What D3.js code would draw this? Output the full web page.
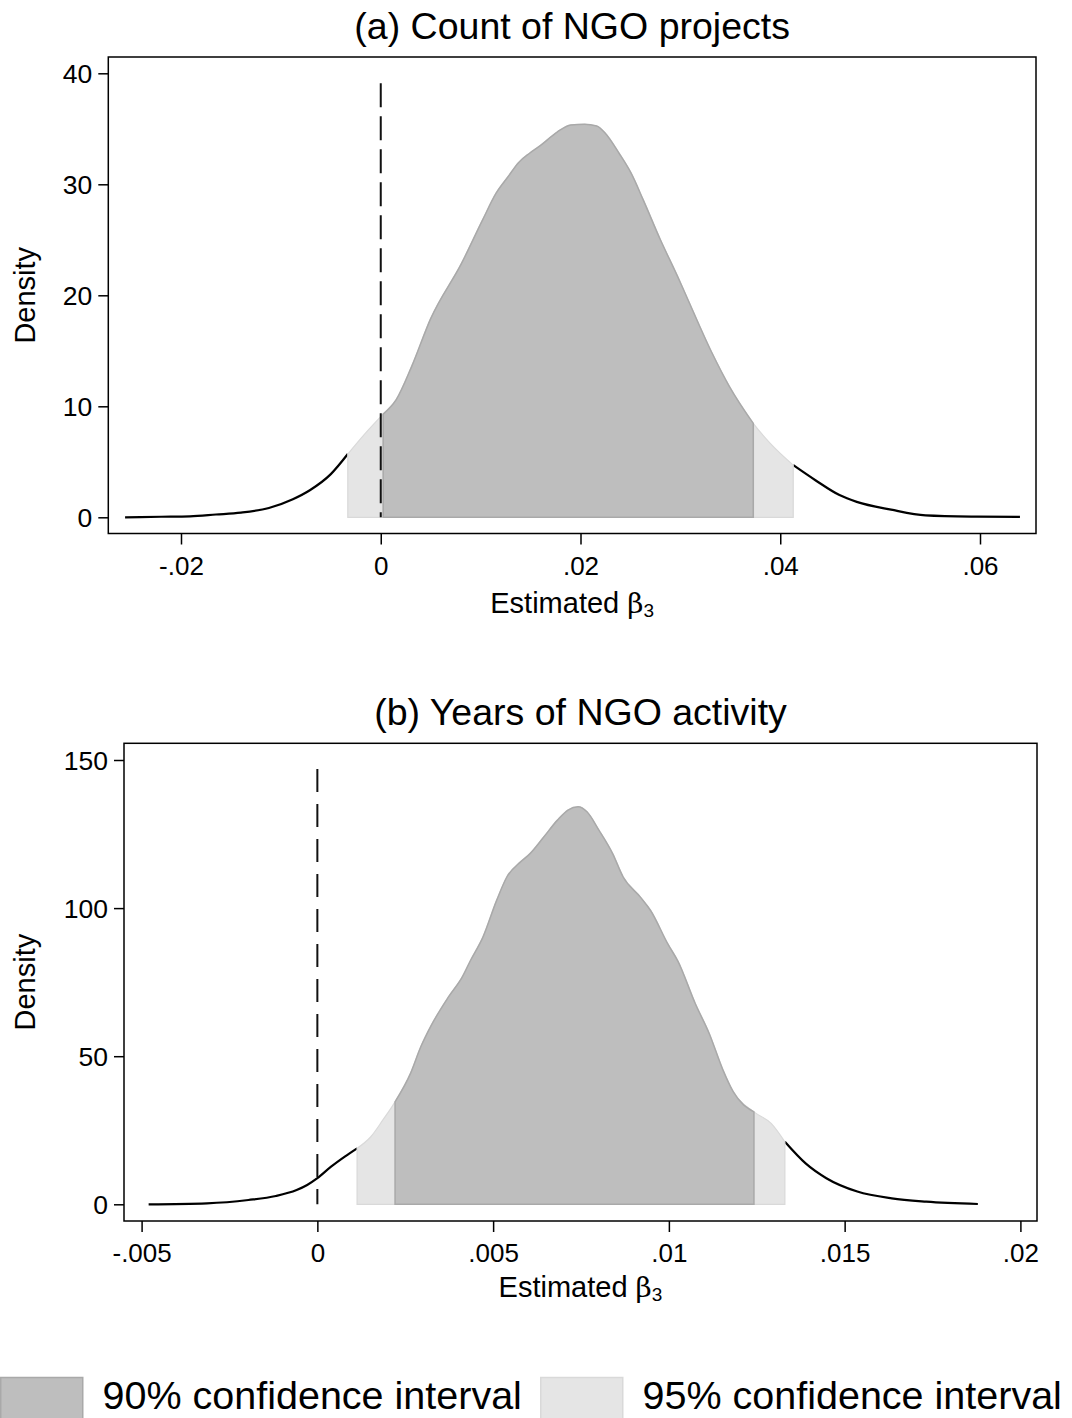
<!DOCTYPE html>
<html>
<head>
<meta charset="utf-8">
<script src="https://cdn.jsdelivr.net/npm/d3@7"></script>
<style>
  html, body { margin: 0; padding: 0; background: #fff; }
  svg { display: block; }
  text { font-family: "Liberation Sans", Arial, sans-serif; fill: #000; }
</style>
</head>
<body>
<svg id="chart" width="1072" height="1418"></svg>
<script>
// ---------------- DATA ----------------
// Panel (a): Count of NGO projects
const panelA_title = "(a) Count of NGO projects";
const panelA_beta = [-0.0256, -0.0220, -0.0191, -0.0165, -0.0140, -0.0112, -0.0088, -0.0071, -0.0050, -0.0033,
  -0.00155, 0.0, 0.00024, 0.00155, 0.0031, 0.0050, 0.0081, 0.0102, 0.01155, 0.01276, 0.01379, 0.0149, 0.0160,
  0.01766, 0.01903, 0.0204, 0.02162, 0.02248, 0.02386, 0.02507, 0.02628, 0.0280, 0.02972, 0.03076, 0.03317,
  0.0349, 0.0373, 0.0390, 0.0413, 0.04352, 0.04593, 0.04766, 0.0511, 0.05455, 0.0597, 0.0640];
const panelA_density = [0.0, 0.05, 0.09, 0.25, 0.42, 0.84, 1.63, 2.44, 3.89, 5.7,
  7.56, 9.07, 9.3, 10.6, 13.6, 17.9, 22.9, 26.8, 29.2, 30.7, 31.95, 32.8, 33.5,
  34.7, 35.35, 35.4, 35.25, 34.6, 32.8, 31.0, 28.6, 25.0, 21.7, 19.6, 14.8,
  11.8, 8.46, 6.66, 4.7, 3.34, 2.0, 1.39, 0.69, 0.18, 0.06, 0.03];
const panelA_ci90 = [0.00024, 0.0373];
const panelA_ci95 = [-0.0033, 0.0413];
const panelA_refTop = 39.1;
const panelA_xTicks = [-0.02, 0, 0.02, 0.04, 0.06];
const panelA_xTickLabels = ["-.02", "0", ".02", ".04", ".06"];
const panelA_yTicks = [0, 10, 20, 30, 40];
const panelA_yTickLabels = ["0", "10", "20", "30", "40"];

// Panel (b): Years of NGO activity
const panelB_title = "(b) Years of NGO activity";
const panelB_beta = [-0.0048, -0.00314, -0.00196, -0.00118, -0.00059, -0.00029, 0.0, 0.00039, 0.00078, 0.00113,
  0.00152, 0.00186, 0.00221, 0.00265, 0.00294, 0.00324, 0.00373, 0.00412, 0.00436, 0.00471, 0.0051, 0.00539,
  0.00578, 0.00605, 0.00644, 0.00683, 0.00713, 0.00742, 0.00767, 0.00801, 0.0084, 0.0087, 0.00919, 0.00948,
  0.00997, 0.01026, 0.01075, 0.01115, 0.01154, 0.01183, 0.01242, 0.01291, 0.0133, 0.01389, 0.01448, 0.01536,
  0.01634, 0.01732, 0.01879];
const panelB_density = [0, 0.34, 1.46, 2.8, 4.8, 6.5, 8.8, 12.7, 16.1, 18.9,
  22.8, 28.4, 34.6, 44.2, 53.1, 60.4, 70, 76.7, 82.4, 90.2, 102.6, 110.5,
  115.6, 118.4, 124, 129.7, 133.1, 134.2, 132.5, 126.3, 118.4, 110.5, 103.7, 99.2,
  87.9, 82, 67.8, 57.6, 45.3, 38, 31.2, 27.3, 21.1, 13.8, 8.8, 4.3,
  2.0, 0.9, 0.1];
const panelB_ci90 = [0.00221, 0.01242];
const panelB_ci95 = [0.00113, 0.0133];
const panelB_refTop = 147;
const panelB_xTicks = [-0.005, 0, 0.005, 0.01, 0.015, 0.02];
const panelB_xTickLabels = ["-.005", "0", ".005", ".01", ".015", ".02"];
const panelB_yTicks = [0, 50, 100, 150];
const panelB_yTickLabels = ["0", "50", "100", "150"];

const xAxisTitle = "Estimated ";
const xAxisSymbol = "\u03B2";
const xAxisSub = "3";
const yAxisTitle = "Density";
const legendLabels = ["90% confidence interval", "95% confidence interval"];

// ---------------- STYLE ----------------
const COL90 = "#bebebe", COL90_EDGE = "#a9a9a9";
const COL95 = "#e5e5e5", COL95_EDGE = "#d9d9d9";

const svg = d3.select("#chart");

function drawPanel(cfg) {
  const g = svg.append("g");
  const x = d3.scaleLinear().domain(cfg.xDom).range(cfg.xRange);
  const y = d3.scaleLinear().domain(cfg.yDom).range(cfg.yRange);
  const pts = cfg.beta.map((b, i) => ({b: b, d: cfg.density[i]}));

  // title
  g.append("text").attr("x", (cfg.box.l + cfg.box.r) / 2).attr("y", cfg.titleY)
    .attr("text-anchor", "middle").style("font-size", "37.5px").text(cfg.title);

  // density line: tails only (outside 95% CI)
  const line = d3.line().x(p => x(p.b)).y(p => y(p.d)).curve(d3.curveMonotoneX);
  const left = pts.filter(p => p.b <= cfg.ci95[0]);
  const right = pts.filter(p => p.b >= cfg.ci95[1]);
  [left, right].forEach(seg => {
    g.append("path").attr("d", line(seg)).attr("fill", "none")
      .attr("stroke", "#000").attr("stroke-width", 2.2).attr("stroke-linejoin", "round");
  });

  const area = d3.area().x(p => x(p.b)).y0(y(0)).y1(p => y(p.d)).curve(d3.curveMonotoneX);
  const in95 = pts.filter(p => p.b >= cfg.ci95[0] && p.b <= cfg.ci95[1]);
  const in90 = pts.filter(p => p.b >= cfg.ci90[0] && p.b <= cfg.ci90[1]);
  g.append("path").attr("d", area(in95)).attr("fill", COL95)
    .attr("stroke", COL95_EDGE).attr("stroke-width", 1.2);
  g.append("path").attr("d", area(in90)).attr("fill", COL90)
    .attr("stroke", COL90_EDGE).attr("stroke-width", 1.5);

  // reference dashed line at 0
  g.append("line").attr("x1", x(0)).attr("x2", x(0))
    .attr("y1", y(cfg.refTop)).attr("y2", y(0))
    .attr("stroke", "#111").attr("stroke-width", 2)
    .attr("stroke-dasharray", cfg.dash);

  // frame
  g.append("rect").attr("x", cfg.box.l).attr("y", cfg.box.t)
    .attr("width", cfg.box.r - cfg.box.l).attr("height", cfg.box.b - cfg.box.t)
    .attr("fill", "none").attr("stroke", "#000").attr("stroke-width", 1.5);

  // x axis
  const xa = g.append("g").attr("transform", `translate(0,${cfg.box.b})`)
    .call(d3.axisBottom(x).tickValues(cfg.xTicks).tickSize(11)
      .tickFormat((d, i) => cfg.xTickLabels[i]));
  xa.select(".domain").remove();
  xa.selectAll(".tick line").attr("stroke", "#000").attr("stroke-width", 1.5);
  xa.selectAll(".tick text").attr("y", cfg.xLabelBase - cfg.box.b).attr("dy", 0)
    .style("font-size", "26px").attr("fill", "#000");

  // y axis
  const ya = g.append("g").attr("transform", `translate(${cfg.box.l},0)`)
    .call(d3.axisLeft(y).tickValues(cfg.yTicks).tickSize(10).tickPadding(6)
      .tickFormat((d, i) => cfg.yTickLabels[i]));
  ya.select(".domain").remove();
  ya.selectAll(".tick line").attr("stroke", "#000").attr("stroke-width", 1.5);
  ya.selectAll(".tick text").style("font-size", "26.5px").attr("dy", "0.36em").attr("fill", "#000");

  // axis titles
  const xt = g.append("text").attr("x", (cfg.box.l + cfg.box.r) / 2).attr("y", cfg.xTitleBase)
    .attr("text-anchor", "middle").style("font-size", "29px");
  xt.append("tspan").text(xAxisTitle);
  xt.append("tspan").text(xAxisSymbol).style("font-family", "'DejaVu Serif', serif").style("font-size", "28px");
  xt.append("tspan").text(xAxisSub).style("font-size", "19px").attr("dy", 4);

  g.append("text").attr("transform", `translate(34.5,${(cfg.box.t + cfg.box.b) / 2}) rotate(-90)`)
    .attr("text-anchor", "middle").style("font-size", "29px").text(yAxisTitle);
}

drawPanel({
  title: panelA_title, beta: panelA_beta, density: panelA_density,
  ci90: panelA_ci90, ci95: panelA_ci95, refTop: panelA_refTop,
  xTicks: panelA_xTicks, xTickLabels: panelA_xTickLabels,
  yTicks: panelA_yTicks, yTickLabels: panelA_yTickLabels,
  xDom: [-0.02, 0.06], xRange: [181, 980],
  yDom: [0, 40], yRange: [517.3, 73.3],
  box: {l: 108.3, r: 1036, t: 57, b: 533.5},
  titleY: 38.5, xLabelBase: 575, xTitleBase: 613, dash: "24,9"
});

drawPanel({
  title: panelB_title, beta: panelB_beta, density: panelB_density,
  ci90: panelB_ci90, ci95: panelB_ci95, refTop: panelB_refTop,
  xTicks: panelB_xTicks, xTickLabels: panelB_xTickLabels,
  yTicks: panelB_yTicks, yTickLabels: panelB_yTickLabels,
  xDom: [-0.005, 0.02], xRange: [141.6, 1020.4],
  yDom: [0, 150], yRange: [1204.3, 760],
  box: {l: 124, r: 1037, t: 743.3, b: 1221},
  titleY: 725, xLabelBase: 1262, xTitleBase: 1297, dash: "23,12"
});

// legend
const legend = svg.append("g");
const legendFill = [COL90, COL95], legendEdge = [COL90_EDGE, COL95_EDGE];
const legendX = [0, 540];
legendLabels.forEach((lab, i) => {
  legend.append("rect").attr("x", legendX[i] + 0.75).attr("y", 1377.5).attr("width", 82).attr("height", 45)
    .attr("fill", legendFill[i]).attr("stroke", legendEdge[i]).attr("stroke-width", 1.5);
  legend.append("text").attr("x", legendX[i] + 102.5).attr("y", 1409)
    .style("font-size", "39.5px").text(lab);
});
</script>
</body>
</html>
